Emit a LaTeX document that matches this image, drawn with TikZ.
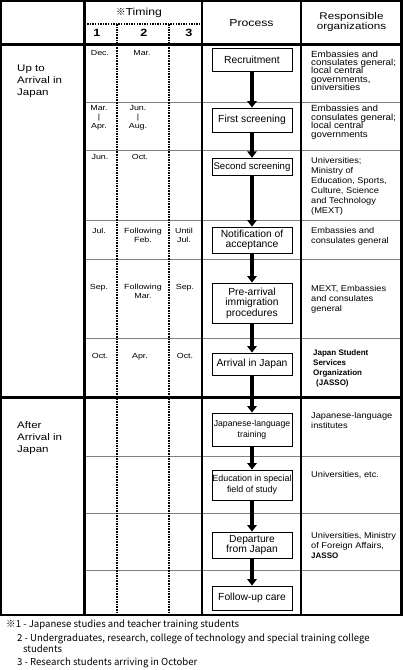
\documentclass[tikz,border=0pt]{standalone}
\usepackage{fontspec}
\setmainfont{Liberation Sans}
\newfontfamily\widesans[FakeStretch=1.2]{Liberation Sans}
\newfontfamily\orgsans[FakeStretch=1.1]{Liberation Sans}
\newfontfamily\jpfont{Noto Sans CJK JP}
\usetikzlibrary{arrows.meta}

\begin{document}
\begin{tikzpicture}[x=1pt,y=-1pt,
  rule/.style={line width=2.3pt},
  rowline/.style={line width=0.8pt,draw=black!50},
  dotline/.style={line width=1.5pt,dash pattern=on 1.5pt off 1.1pt},
  procbox/.style={draw,line width=0.9pt,minimum width=80pt,inner sep=0pt,align=center,font=\fontsize{10.3}{10.6}\selectfont},
  flow/.style={-{Triangle[length=6.5pt,width=9.5pt]},line width=4pt},
  when/.style={anchor=north,align=center,inner sep=0pt,font=\widesans\fontsize{7.4}{8.7}\selectfont},
  who/.style={anchor=north west,align=left,inner sep=0pt,font=\orgsans\fontsize{8.4}{10}\selectfont},
  jasso/.style={anchor=north west,align=left,inner sep=0pt,font=\bfseries\fontsize{8}{10}\selectfont},
  stage/.style={anchor=north west,align=left,inner sep=0pt,font=\widesans\fontsize{9.6}{12}\selectfont},
  head/.style={inner sep=0pt,align=center,font=\widesans\fontsize{10.2}{9.8}\selectfont},
  note/.style={anchor=base west,inner sep=0pt,font=\jpfont\fontsize{9.6}{11}\selectfont}]
\useasboundingbox (0,0) rectangle (403,670);
% grid of the table
\foreach \y in {102,150,220,259.5,338,456.5,513.5,570}
  \draw[rowline] (84.5,\y) -- (402,\y);
\draw[dotline] (84.5,24) -- (202,24);
\draw[dotline] (117,24) -- (117,615);
\draw[dotline] (169,24) -- (169,615);
\draw[rule] (1,1) rectangle (401.5,615);
\draw[rule] (1,44.5) -- (401.5,44.5);
\draw[rule] (1,397.5) -- (401.5,397.5);
\draw[rule] (84.5,1) -- (84.5,615);
\draw[rule] (202,1) -- (202,615);
\draw[rule] (301,1) -- (301,615);
% headings
\node[head] (timing) at (139,13) {{\jpfont\fontsize{9.5}{9.5}\selectfont ※}Timing};
\node[head,font=\widesans\bfseries\fontsize{10.5}{10.5}\selectfont] (one) at (97,33) {1};
\node[head,font=\widesans\bfseries\fontsize{10.5}{10.5}\selectfont] (two) at (144,33) {2};
\node[head,font=\widesans\bfseries\fontsize{10.5}{10.5}\selectfont] (three) at (189,33) {3};
\node[head] (process) at (251.5,23) {Process};
\node[head,font=\widesans\fontsize{9.7}{9.8}\selectfont] (orgs) at (351.5,22) {Responsible\\organizations};
\node[stage] (before) at (17,65) {Up to\\Arrival in\\Japan};
\node[stage] (after) at (17,421) {After\\Arrival in\\Japan};
% timing
\node[when] (dec) at (100,50.5) {Dec.};
\node[when] (mar) at (142,50.5) {Mar.};
\node[when] (marapr) at (99,105.5) {Mar.\\[0.3pt]|\\[0.3pt]Apr.};
\node[when] (junaug) at (138,105.5) {Jun.\\[0.3pt]|\\[0.3pt]Aug.};
\node[when] (jun) at (100,154) {Jun.};
\node[when] (oct) at (140,154) {Oct.};
\node[when] (jul) at (99,228) {Jul.};
\node[when] (febnext) at (143,228) {Following\\Feb.};
\node[when] (untiljul) at (184,228) {Until\\Jul.};
\node[when] (sep) at (99,284) {Sep.};
\node[when] (marnext) at (143,284) {Following\\Mar.};
\node[when] (septhree) at (185,284) {Sep.};
\node[when] (octone) at (100,353) {Oct.};
\node[when] (apr) at (140,353) {Apr.};
\node[when] (octthree) at (185,353) {Oct.};
% process
\node[procbox,minimum height=23pt] (recruit) at (252,59.5) {Recruitment};
\node[procbox,minimum height=24pt] (screen1) at (252,120) {First screening};
\node[procbox,minimum height=17.5pt,font=\fontsize{9.6}{10}\selectfont] (screen2) at (252,167) {Second screening};
\node[procbox,minimum height=26pt] (notify) at (252,240) {Notification of\\acceptance};
\node[procbox,minimum height=40pt] (prearr) at (252,303) {Pre-arrival\\immigration\\procedures};
\node[procbox,minimum height=22pt] (arrive) at (252,364) {Arrival in Japan};
\node[procbox,minimum height=33pt,font=\fontsize{8.7}{11}\selectfont] (jplang) at (252,429.5) {Japanese-language\\training};
\node[procbox,minimum height=30pt,font=\fontsize{8.9}{11}\selectfont] (educ) at (252,485) {Education in special\\field of study};
\node[procbox,minimum height=26pt] (depart) at (252,545) {Departure\\from Japan};
\node[procbox,minimum height=24pt] (follow) at (252,598) {Follow-up care};
\draw[flow] (recruit) -- (screen1);
\draw[flow] (screen1) -- (screen2);
\draw[flow] (screen2) -- (notify);
\draw[flow] (notify) -- (prearr);
\draw[flow] (prearr) -- (arrive);
\draw[flow] (arrive) -- (jplang);
\draw[flow] (jplang) -- (educ);
\draw[flow] (educ) -- (depart);
\draw[flow] (depart) -- (follow);
% responsible organizations
\node[who,font=\orgsans\fontsize{8.9}{8.3}\selectfont] (org1) at (311,50.5) {Embassies and\\consulates general;\\local central\\governments,\\universities};
\node[who,font=\orgsans\fontsize{8.9}{8.5}\selectfont] (org2) at (311,105) {Embassies and\\consulates general;\\local central\\governments};
\node[who] (org3) at (311,157.5) {Universities;\\Ministry of\\Education, Sports,\\Culture, Science\\and Technology\\(MEXT)};
\node[who] (org4) at (311,227.5) {Embassies and\\consulates general};
\node[who] (org5) at (311,285) {MEXT, Embassies\\and consulates\\general};
\node[jasso] (org6) at (313,349.5) {Japan Student\\Services\\Organization\\\hspace*{3pt}(JASSO)};
\node[who] (org7) at (311,412.5) {Japanese-language\\institutes};
\node[who] (org8) at (311,471.5) {Universities, etc.};
\node[who] (org9) at (311,532.5) {Universities, Ministry\\of Foreign Affairs,\\{\normalfont\bfseries\fontsize{8}{10}\selectfont JASSO}};
% notes
\node[note] (note1) at (6,627) {※1 - Japanese studies and teacher training students};
\node[note] (note2) at (17,641) {2 - Undergraduates, research, college of technology and special training college};
\node[note] (note2b) at (23,652.5) {students};
\node[note] (note3) at (17,665) {3 - Research students arriving in October};
\end{tikzpicture}
\end{document}
